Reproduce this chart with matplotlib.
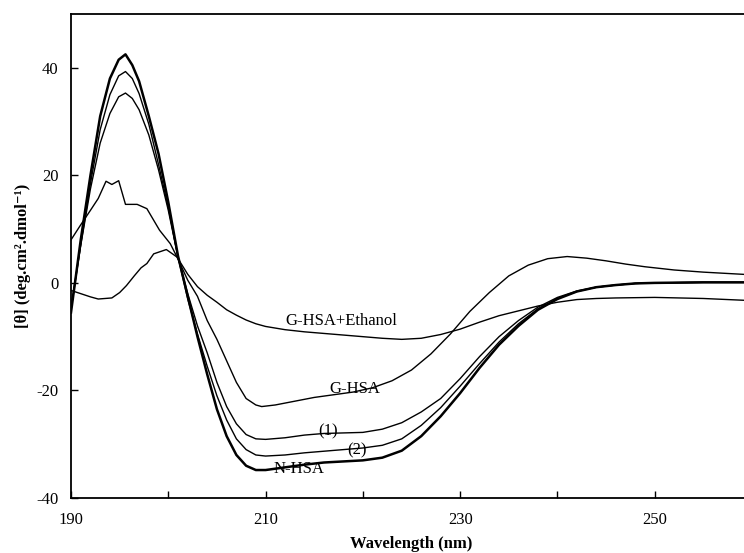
import matplotlib
matplotlib.use('Agg')
import matplotlib.pyplot as plt

plt.rcParams['font.family'] = ['Liberation Serif', 'DejaVu Serif']
plt.rcParams['axes.unicode_minus'] = False

#==================== DATA ====================
# N-HSA
wl_n = [190, 191, 192, 193, 194, 194.9, 195.6, 196.3, 197, 198, 199, 200, 201, 202, 203,
        204, 205, 206, 207, 208, 209, 210, 212, 214, 216, 218, 220, 222, 224, 226, 228,
        230, 232, 234, 236, 238, 240, 242, 244, 246, 248, 250, 255, 260]
theta_n = [-5.5, 8, 20, 31, 38, 41.5, 42.5, 40.5, 37.5, 31, 24, 15, 5, -2.5, -10,
           -17, -23.5, -28.5, -32, -34, -34.8, -34.8, -34.3, -33.8, -33.4, -33.2, -33, -32.5, -31.2, -28.5, -24.8,
           -20.5, -15.8, -11.5, -8, -5, -3, -1.6, -0.8, -0.4, -0.1, 0, 0.1, 0.1]

# (2)
wl_2 = [190, 191, 192, 193, 194, 194.9, 195.6, 196.3, 197, 198, 199, 200, 201, 202, 203,
        204, 205, 206, 207, 208, 209, 210, 212, 214, 216, 218, 220, 222, 224, 226, 228,
        230, 232, 234, 236, 238, 240, 242, 244, 246, 248, 250, 255, 260]
theta_2 = [-5, 7, 18.5, 28.5, 35, 38.5, 39.3, 38, 35.2, 29.5, 22, 14, 4.8, -3, -9.5,
           -15.5, -21, -25.5, -29, -31, -32, -32.2, -32, -31.6, -31.3, -31, -30.7, -30.2, -29, -26.5, -23.2,
           -19.2, -15, -11, -7.6, -4.8, -2.9, -1.6, -0.8, -0.4, -0.1, 0, 0.1, 0.1]

# (1)
wl_1 = [190, 191, 192, 193, 194, 194.9, 195.6, 196.3, 197, 198, 199, 200, 201, 202, 203,
        204, 205, 206, 207, 208, 209, 210, 212, 214, 216, 218, 220, 222, 224, 226, 228,
        230, 232, 234, 236, 238, 240, 242, 244, 246, 248, 250, 255, 260]
theta_1 = [-4.5, 7, 17.5, 26, 31.5, 34.6, 35.3, 34.3, 32.2, 27.5, 21, 13.5, 4.8, -2, -8,
           -13, -18.5, -23, -26.2, -28.2, -29, -29.1, -28.8, -28.3, -28, -27.9, -27.8, -27.2, -26, -24, -21.5,
           -17.8, -13.7, -10, -7, -4.5, -2.7, -1.5, -0.8, -0.4, -0.1, 0, 0.1, 0.1]

# G-HSA
wl_g = [190, 191, 192, 192.8, 193.6, 194.2, 194.9, 195.6, 196.8, 197.8, 199.1, 200.2, 200.9,
        202, 203, 204, 205, 206, 207, 208, 209, 209.6, 211, 213, 215, 217, 219, 221, 223,
        225, 227, 229, 231, 233, 235, 237, 239, 241, 243, 245, 247, 249, 252, 255, 258, 260]
theta_g = [8, 10.8, 13.5, 15.7, 18.9, 18.3, 19, 14.6, 14.6, 13.8, 9.8, 7.3, 4.8,
           0.5, -2.5, -7, -10.5, -14.5, -18.5, -21.5, -22.7, -23, -22.7, -22, -21.3, -20.8, -20.3, -19.5, -18.2,
           -16.2, -13.2, -9.5, -5.3, -1.8, 1.3, 3.3, 4.5, 4.9, 4.6, 4.1, 3.5, 3, 2.4, 2, 1.7, 1.5]

# G-HSA+Ethanol
wl_e = [190, 191, 192, 192.8, 194.2, 195, 195.7, 196.5, 197.2, 197.8, 198.5, 199.8, 200.9,
        202, 203, 204, 205, 206, 207, 208, 209, 210, 212, 214, 216, 218, 220, 222, 224,
        226, 228, 230, 232, 234, 236, 238, 240, 242, 244, 246, 250, 255, 260]
theta_e = [-1.4, -2, -2.6, -3, -2.8, -1.8, -0.5, 1.3, 2.8, 3.6, 5.4, 6.2, 4.8,
           1.6, -0.7, -2.3, -3.6, -5, -6, -6.9, -7.6, -8.1, -8.7, -9.1, -9.4, -9.7, -10, -10.3, -10.5,
           -10.3, -9.6, -8.6, -7.3, -6.1, -5.2, -4.3, -3.6, -3.1, -2.9, -2.8, -2.7, -2.9, -3.3]

# curve labels and where they sit (wavelength, theta)
curve_labels = ['G-HSA+Ethanol', 'G-HSA', '(1)', '(2)', 'N-HSA']
label_wl = [217.8, 219.2, 216.4, 219.4, 213.4]
label_theta = [-7.0, -19.8, -27.6, -31.2, -34.6]

x_ticks = [190, 200, 210, 220, 230, 240, 250, 260]
x_tick_labels = ['190', '', '210', '', '230', '', '250', '']
y_ticks = [-40, -20, 0, 20, 40]
#=====================================================================

fig = plt.figure(figsize=(7.44, 5.53), dpi=100)
ax = fig.add_axes([71 / 744, 1 - 498 / 553, 681 / 744, 484 / 553])

ax.plot(wl_e, theta_e, color='black', lw=1.0)
ax.plot(wl_g, theta_g, color='black', lw=1.0)
ax.plot(wl_1, theta_1, color='black', lw=1.0)
ax.plot(wl_2, theta_2, color='black', lw=1.0)
ax.plot(wl_n, theta_n, color='black', lw=1.8)

for txt, lx, ly in zip(curve_labels, label_wl, label_theta):
    ax.text(lx, ly, txt, fontsize=12, ha='center', va='center')

ax.set_xlim(190, 260)
ax.set_ylim(-40, 50)
ax.set_xticks(x_ticks)
ax.set_xticklabels(x_tick_labels)
ax.set_yticks(y_ticks)
ax.tick_params(direction='in', length=5, width=1.0, labelsize=12)
ax.tick_params(axis='x', pad=10)
ax.tick_params(axis='y', pad=9)

for s in ax.spines.values():
    s.set_linewidth(1.3)

ax.set_xlabel('Wavelength (nm)', fontsize=12, fontweight='bold', labelpad=6)
ax.set_ylabel('[θ] (deg.cm².dmol⁻¹)', fontsize=12, fontweight='bold', labelpad=4)

fig.savefig('out.png', dpi=100)
